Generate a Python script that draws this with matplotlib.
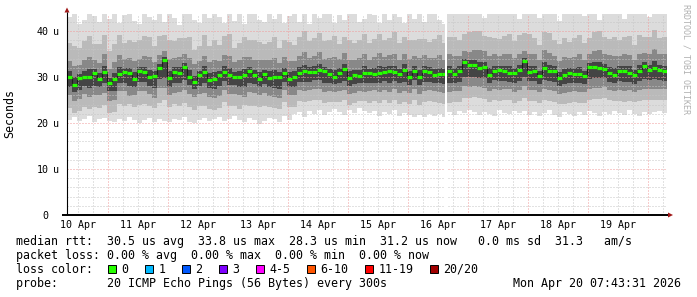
import datetime as dt
import numpy as np
import matplotlib
matplotlib.use("Agg")
import matplotlib.pyplot as plt
from matplotlib.patches import Rectangle, Polygon

W, H = 697, 297
MONO = "DejaVu Sans Mono"

# 10 day window ending at the time stamp printed under the graph
t_end = dt.datetime(2026, 4, 20, 7, 43, 31)
t_start = t_end - dt.timedelta(days=10)
step_h = 2.0      # hours per smoke column
y_max = 43.7
y_ticks = [0, 10, 20, 30, 40]

# median rtt per column (us)
median_rtt = [30.1, 28.3, 29.7, 30.0, 30.0, 30.9, 29.6, 31.0, 28.7, 29.5,
              30.6, 31.1, 30.8, 29.5, 31.4, 31.0, 29.9, 30.2, 31.9, 33.8,
              29.8, 31.0, 30.8, 32.2, 29.9, 28.9, 30.4, 31.1, 29.4, 29.5,
              30.4, 31.1, 30.5, 30.0, 30.1, 30.4, 31.2, 30.4, 29.5, 30.7,
              29.8, 29.9, 30.0, 30.8, 29.5, 30.1, 30.9, 31.3, 31.1, 31.1,
              31.6, 31.2, 30.6, 30.1, 30.9, 31.7, 29.8, 30.5, 30.3, 30.8,
              30.8, 30.6, 30.9, 31.1, 31.2, 31.1, 30.7, 31.5, 29.9, 31.3,
              30.0, 31.3, 31.1, 30.4, 30.6, 30.6, 31.2, 30.6, 31.2, 33.3,
              32.7, 32.6, 31.9, 32.2, 30.4, 31.3, 31.5, 31.2, 30.9, 30.9,
              31.5, 33.5, 31.1, 31.3, 30.3, 32.0, 31.2, 31.3, 29.8, 30.4,
              30.9, 30.6, 30.7, 30.2, 32.1, 32.1, 31.9, 31.7, 30.9, 30.4,
              31.2, 31.2, 30.9, 30.4, 31.3, 32.3, 31.5, 32.0, 31.5, 31.2]

# fastest / slowest ping per column (us)
min_rtt = [20.6, 21.2, 20.4, 20.9, 21.5, 20.3, 20.8, 21.0, 20.5, 20.2,
           20.9, 20.4, 21.3, 20.7, 20.1, 20.6, 21.1, 20.3, 20.8, 20.5,
           20.2, 20.9, 20.6, 21.4, 20.3, 19.9, 20.7, 21.0, 20.4, 20.8,
           21.2, 20.5, 20.9, 21.6, 20.7, 20.3, 21.0, 20.6, 19.8, 20.4,
           21.1, 20.8, 20.2, 21.5, 20.6, 21.9, 22.4, 21.3, 22.6, 22.0,
           22.8, 21.7, 22.3, 23.1, 22.5, 21.8, 22.9, 22.2, 23.3, 22.6,
           22.1, 22.7, 21.6, 22.4, 21.9, 22.8, 21.5, 22.2, 21.7, 21.4,
           21.8, 21.2, 22.0, 21.5, 21.9, 21.3, 22.4, 21.8, 22.6, 22.1,
           22.9, 22.3, 21.7, 22.5, 22.0, 21.6, 22.8, 22.2, 21.9, 22.6,
           22.1, 22.7, 21.8, 22.4, 21.5, 22.2, 22.9, 21.7, 21.4, 22.3,
           22.0, 21.6, 22.5, 21.8, 22.7, 22.1, 21.5, 22.4, 21.9, 22.6,
           22.2, 21.7, 22.8, 22.0, 21.6, 22.5, 21.9, 22.3, 22.7, 22.1]
max_rtt = [43.0, 44.5, 41.5, 42.4, 45.0, 43.2, 41.9, 44.1, 42.7, 45.0,
           41.8, 43.5, 44.8, 42.1, 41.6, 44.2, 43.0, 42.3, 45.0, 41.9,
           44.6, 42.8, 41.4, 43.9, 45.0, 42.5, 41.7, 44.3, 42.9, 45.0,
           43.1, 41.8, 44.7, 42.2, 45.0, 41.5, 43.6, 44.9, 42.4, 41.9,
           44.4, 42.6, 45.0, 41.7, 43.3, 44.8, 42.0, 45.0, 41.6, 43.8,
           42.9, 45.0, 44.1, 41.8, 43.5, 42.3, 45.0, 44.6, 41.9, 42.7,
           45.0, 43.4, 41.7, 44.9, 42.5, 45.0, 43.1, 41.8, 44.3, 42.6,
           45.0, 41.9, 43.7, 44.8, 42.4, 41.6, 45.0, 44.5, 45.0, 43.9,
           45.0, 44.7, 45.0, 42.8, 45.0, 44.4, 45.0, 43.6, 45.0, 45.0,
           42.6, 45.0, 44.8, 45.0, 42.9, 45.0, 44.3, 45.0, 42.1, 45.0,
           44.6, 45.0, 45.0, 43.2, 45.0, 44.9, 42.5, 45.0, 45.0, 44.2,
           45.0, 42.7, 45.0, 45.0, 44.4, 45.0, 43.0, 45.0, 44.8, 45.0]

# spread of the inner ping bands below / above the median (us)
light_lo = [6.8, 6.2, 7.1, 6.5, 6.9, 7.4, 6.3, 7.0, 6.6, 7.2,
            6.4, 7.3, 6.7, 6.1, 7.5, 6.8, 6.2, 7.0, 7.6, 8.9,
            6.3, 6.9, 7.2, 7.8, 6.5, 6.0, 6.8, 7.3, 6.4, 6.7,
            7.1, 6.6, 6.9, 6.2, 7.0, 6.5, 7.4, 6.8, 6.1, 6.9,
            6.4, 6.7, 7.0, 6.3, 6.0, 6.6, 6.2, 6.8, 6.4, 6.1,
            6.5, 6.9, 6.0, 5.6, 6.3, 6.8, 5.8, 6.2, 5.5, 6.1,
            6.4, 5.9, 6.6, 6.2, 6.8, 6.0, 6.5, 6.9, 5.7, 6.3,
            6.1, 6.7, 6.4, 5.9, 6.2, 6.5, 6.8, 6.0, 6.6, 7.8,
            7.2, 7.0, 6.5, 6.9, 5.8, 6.4, 6.7, 6.2, 6.0, 6.5,
            6.8, 8.0, 6.3, 6.6, 5.9, 7.1, 6.4, 6.7, 5.6, 6.2,
            6.5, 6.1, 6.4, 5.8, 7.0, 6.9, 6.6, 6.3, 6.0, 5.7,
            6.4, 6.7, 6.1, 5.9, 6.5, 7.2, 6.6, 7.0, 6.4, 6.3]
light_hi = [7.2, 8.4, 6.6, 7.8, 8.9, 6.3, 7.5, 8.1, 6.9, 7.7,
            8.6, 6.4, 7.3, 8.2, 6.7, 7.9, 8.8, 6.5, 7.1, 5.4,
            8.3, 6.8, 7.6, 6.2, 8.7, 7.0, 6.4, 8.0, 7.4, 8.5,
            6.6, 7.8, 8.9, 6.3, 7.2, 8.4, 6.8, 7.6, 8.1, 6.5,
            7.9, 8.7, 6.4, 7.3, 8.2, 6.9, 7.7, 8.6, 6.7, 7.4,
            8.0, 6.6, 7.5, 8.8, 6.3, 7.1, 8.3, 6.8, 7.8, 8.5,
            6.5, 7.6, 8.4, 6.9, 7.3, 8.7, 6.6, 7.2, 8.1, 6.8,
            8.3, 7.0, 6.5, 7.9, 8.6, 6.7, 7.4, 8.2, 6.9, 6.1,
            7.0, 7.5, 8.1, 6.8, 8.4, 7.2, 6.7, 7.8, 8.5, 6.9,
            7.6, 6.0, 8.2, 7.1, 6.6, 7.7, 8.3, 6.8, 7.4, 8.0,
            6.7, 7.9, 8.5, 7.2, 6.4, 7.6, 8.1, 6.9, 7.3, 8.4,
            6.8, 7.5, 8.0, 6.6, 7.8, 6.4, 7.2, 8.3, 6.9, 7.6]
mid_lo = [4.1, 3.6, 4.5, 3.8, 4.3, 4.8, 3.5, 4.4, 3.9, 4.6,
          3.7, 4.2, 4.9, 3.4, 4.5, 4.0, 3.6, 4.7, 4.3, 6.2,
          3.8, 4.4, 4.1, 5.0, 3.5, 3.3, 4.2, 4.6, 3.7, 4.0,
          4.5, 3.9, 4.3, 3.6, 4.1, 4.7, 4.4, 3.8, 3.4, 4.2,
          3.9, 4.3, 4.6, 3.7, 3.5, 4.1, 3.8, 4.4, 4.0, 3.6,
          4.2, 4.5, 3.7, 3.4, 4.0, 4.6, 3.5, 3.9, 3.3, 4.1,
          3.8, 3.5, 4.2, 3.9, 4.4, 3.6, 4.1, 4.5, 3.4, 3.9,
          3.6, 4.3, 4.0, 3.5, 3.8, 4.1, 4.4, 3.7, 4.2, 5.3,
          4.8, 4.6, 4.0, 4.5, 3.5, 3.9, 4.3, 3.8, 3.6, 4.1,
          4.4, 5.5, 3.9, 4.2, 3.6, 4.7, 4.0, 4.3, 3.4, 3.8,
          4.1, 3.7, 4.0, 3.5, 4.6, 4.5, 4.2, 3.9, 3.7, 3.4,
          4.0, 4.3, 3.8, 3.6, 4.1, 4.8, 4.2, 4.6, 4.0, 3.9]
mid_hi = [3.4, 4.1, 2.9, 3.7, 4.3, 2.7, 3.5, 3.9, 3.1, 3.8,
          4.2, 2.8, 3.3, 4.0, 2.6, 3.6, 4.4, 3.0, 2.9, 1.9,
          4.1, 3.2, 3.6, 2.7, 4.3, 3.9, 3.1, 3.5, 3.8, 4.2,
          3.0, 3.7, 4.1, 3.3, 3.6, 4.0, 3.2, 3.4, 4.3, 2.9,
          3.8, 4.2, 3.1, 3.5, 4.0, 3.3, 3.7, 4.1, 3.0, 3.4,
          3.9, 2.8, 3.6, 4.2, 3.1, 3.5, 4.0, 3.2, 3.8, 4.1,
          3.0, 3.7, 4.3, 3.2, 3.5, 4.0, 3.1, 3.6, 4.1, 3.3,
          4.2, 3.4, 3.0, 3.8, 4.1, 3.2, 3.7, 4.0, 3.3, 2.4,
          2.8, 3.2, 3.9, 3.4, 4.2, 3.6, 3.1, 3.8, 4.0, 3.3,
          3.5, 2.2, 4.0, 3.6, 3.3, 3.8, 4.1, 3.2, 3.7, 3.9,
          3.2, 3.7, 4.2, 3.5, 3.0, 3.6, 4.0, 3.3, 3.8, 4.1,
          3.4, 3.7, 3.9, 3.2, 3.8, 3.0, 3.5, 4.0, 3.4, 3.7]
dark_lo = [2.2, 1.6, 2.5, 1.9, 2.3, 2.8, 1.7, 2.4, 1.8, 2.6,
           2.0, 2.3, 2.7, 1.6, 2.5, 2.1, 1.8, 2.6, 2.4, 4.1,
           1.9, 2.4, 2.2, 2.9, 1.7, 1.5, 2.3, 2.5, 1.8, 2.1,
           2.4, 2.0, 2.3, 1.8, 2.2, 2.6, 2.4, 1.9, 1.6, 2.2,
           2.0, 2.3, 2.5, 1.8, 1.7, 2.2, 1.9, 2.4, 2.1, 1.8,
           2.3, 2.4, 1.9, 1.7, 2.1, 2.5, 1.8, 2.0, 1.6, 2.2,
           2.0, 1.8, 2.2, 2.0, 2.4, 1.9, 2.1, 2.5, 1.7, 2.0,
           1.8, 2.3, 2.1, 1.8, 2.0, 2.2, 2.4, 1.9, 2.3, 3.2,
           2.8, 2.6, 2.1, 2.5, 1.8, 2.0, 2.3, 2.0, 1.9, 2.2,
           2.4, 3.4, 2.0, 2.2, 1.8, 2.6, 2.1, 2.3, 1.7, 2.0,
           2.2, 1.9, 2.1, 1.8, 2.5, 2.4, 2.2, 2.0, 1.9, 1.8,
           2.1, 2.3, 2.0, 1.9, 2.2, 2.7, 2.2, 2.5, 2.1, 2.0]
dark_hi = [1.2, 1.6, 0.9, 1.4, 1.7, 0.8, 1.3, 1.5, 1.0, 1.4,
           1.6, 0.9, 1.1, 1.5, 0.8, 1.2, 1.7, 1.0, 0.9, 0.6,
           1.5, 1.1, 1.3, 0.8, 1.6, 1.4, 1.0, 1.2, 1.4, 1.6,
           1.0, 1.3, 1.5, 1.1, 1.2, 1.4, 1.0, 1.2, 1.6, 0.9,
           1.4, 1.6, 1.1, 1.2, 1.5, 1.1, 1.3, 1.4, 1.0, 1.2,
           1.3, 0.9, 1.2, 1.5, 1.0, 1.1, 1.4, 1.1, 1.3, 1.5,
           1.0, 1.3, 1.5, 1.1, 1.2, 1.4, 1.0, 1.3, 1.5, 1.1,
           1.5, 1.1, 1.0, 1.3, 1.4, 1.1, 1.3, 1.4, 1.1, 0.7,
           0.9, 1.0, 1.3, 1.1, 1.5, 1.2, 1.0, 1.3, 1.4, 1.1,
           1.2, 0.7, 1.4, 1.2, 1.1, 1.3, 1.4, 1.0, 1.3, 1.4,
           1.1, 1.3, 1.5, 1.2, 1.0, 1.2, 1.4, 1.1, 1.3, 1.5,
           1.2, 1.3, 1.4, 1.1, 1.3, 1.0, 1.2, 1.4, 1.1, 1.3]

# hours after t_start where no data was collected
gap_hours = [151.0]
gap_len = 0.8

loss_labels = ["0", "1", "2", "3", "4-5", "6-10", "11-19", "20/20"]
loss_colors = ["#26ff00", "#00b8ff", "#0059ff", "#7e00ff",
               "#ff00ff", "#ff5500", "#ff0000", "#a10000"]

stats_rtt = ("median rtt:  30.5 us avg  33.8 us max  28.3 us min  "
             "31.2 us now   0.0 ms sd  31.3   am/s")
stats_loss = "packet loss: 0.00 % avg  0.00 % max  0.00 % min  0.00 % now"
probe_text = "probe:       20 ICMP Echo Pings (56 Bytes) every 300s"

fig = plt.figure(figsize=(W / 100, H / 100), dpi=100)
fig.patch.set_facecolor("white")

# plot area in pixels: x 67..667, y 14..215
ax = fig.add_axes([67 / W, 1 - 215 / H, 600 / W, 201 / H])
span_h = (t_end - t_start).total_seconds() / 3600
ax.set_xlim(0, span_h)
ax.set_ylim(0, y_max)
ax.axis("off")

med = np.array(median_rtt)
left = np.arange(len(med)) * step_h
bands = [
    (np.array(min_rtt), np.array(max_rtt), "#dcdcdc"),
    (med - np.array(light_lo), med + np.array(light_hi), "#bababa"),
    (med - np.array(mid_lo), med + np.array(mid_hi), "#888888"),
    (med - np.array(dark_lo), med + np.array(dark_hi), "#444444"),
]
for lo, hi, c in bands:
    ax.bar(left, hi - lo, bottom=lo, width=step_h, align="edge",
           color=c, linewidth=0, antialiased=False, zorder=1)

# grid
dots = (0, (1, 2))
minor_c, major_c = "#c6c6c6", "#f09a9a"
midnight = dt.datetime.combine(t_start.date() + dt.timedelta(days=1), dt.time())
first_mid = (midnight - t_start).total_seconds() / 3600
for h in np.arange(first_mid - 18, span_h, 6):
    if h <= 0:
        continue
    major = abs((h - first_mid) % 24) < 1e-6
    ax.axvline(h, color=major_c if major else minor_c, lw=0.72, ls=dots,
               zorder=3)
for v in range(2, int(y_max) + 1, 2):
    ax.axhline(v, color=major_c if v % 10 == 0 else minor_c, lw=0.72,
               ls=dots, zorder=3)

# median line
edges = np.append(left, left[-1] + step_h)
ax.step(edges, np.append(med, med[-1]), where="post", color="#1e1e1e",
        lw=0.8, zorder=4)
ax.hlines(med, left, left + step_h, color=loss_colors[0], lw=2.3, zorder=5)

ax.bar(gap_hours, y_max, width=gap_len, align="edge", color="white",
       linewidth=0, zorder=6)

# overlay in pixel coordinates for axes, labels and legend
ov = fig.add_axes([0, 0, 1, 1])
ov.set_xlim(0, W)
ov.set_ylim(H, 0)
ov.axis("off")
ov.patch.set_alpha(0)

ov.plot([67, 67], [215, 12], color="black", lw=0.8, solid_capstyle="butt")
ov.plot([62, 668], [215, 215], color="black", lw=1.4, solid_capstyle="butt")
ov.add_patch(Polygon([[64.5, 12.5], [69.5, 12.5], [67, 7.5]], closed=True,
                     color="#a01818", lw=0))
ov.add_patch(Polygon([[668, 212.5], [668, 217.5], [673, 215]], closed=True,
                     color="#a01818", lw=0))

for v in y_ticks:
    yp = 215 - v / y_max * 201
    ov.text(48.3, yp + 3.6, str(v), ha="right", va="baseline",
            family=MONO, size=7.2, color="black")
    if v:
        ov.text(53.3, yp + 3.6, "u", ha="left", va="baseline",
                family=MONO, size=7.2, color="black")

px_per_h = 600 / span_h
for d in range(10):
    noon = first_mid - 12 + 24 * d
    lab = (t_start + dt.timedelta(hours=noon)).strftime("%d %b")
    ov.text(67 + noon * px_per_h, 228, lab, ha="center", va="baseline",
            family=MONO, size=7.2, color="black")

ov.text(10, 114, "Seconds", rotation=90, ha="center", va="center",
        family=MONO, size=8.4, color="black")
ov.text(686, 4, "RRDTOOL / TOBI OETIKER", rotation=270, ha="center",
        va="top", family=MONO, size=6, color="#b0b0b0")

ov.text(15.5, 245.5, stats_rtt, ha="left", va="baseline", family=MONO, size=8.4)
ov.text(15.5, 259.2, stats_loss, ha="left", va="baseline", family=MONO, size=8.4)
ov.text(15.5, 273, "loss color:", ha="left", va="baseline", family=MONO, size=8.4)
ov.text(15.5, 286.8, probe_text, ha="left", va="baseline", family=MONO, size=8.4)
ov.text(681, 286.8, t_end.strftime("%a %b %d %H:%M:%S %Y"), ha="right",
        va="baseline", family=MONO, size=8.4)

bx = 108
for lab, c in zip(loss_labels, loss_colors):
    ov.add_patch(Rectangle((bx, 265), 8, 8, facecolor=c, edgecolor="black",
                           lw=0.7))
    ov.text(bx + 13.5, 273, lab, ha="left", va="baseline", family=MONO, size=8.4)
    bx += 30 + 7 * len(lab)

fig.savefig("out.png", dpi=100)
